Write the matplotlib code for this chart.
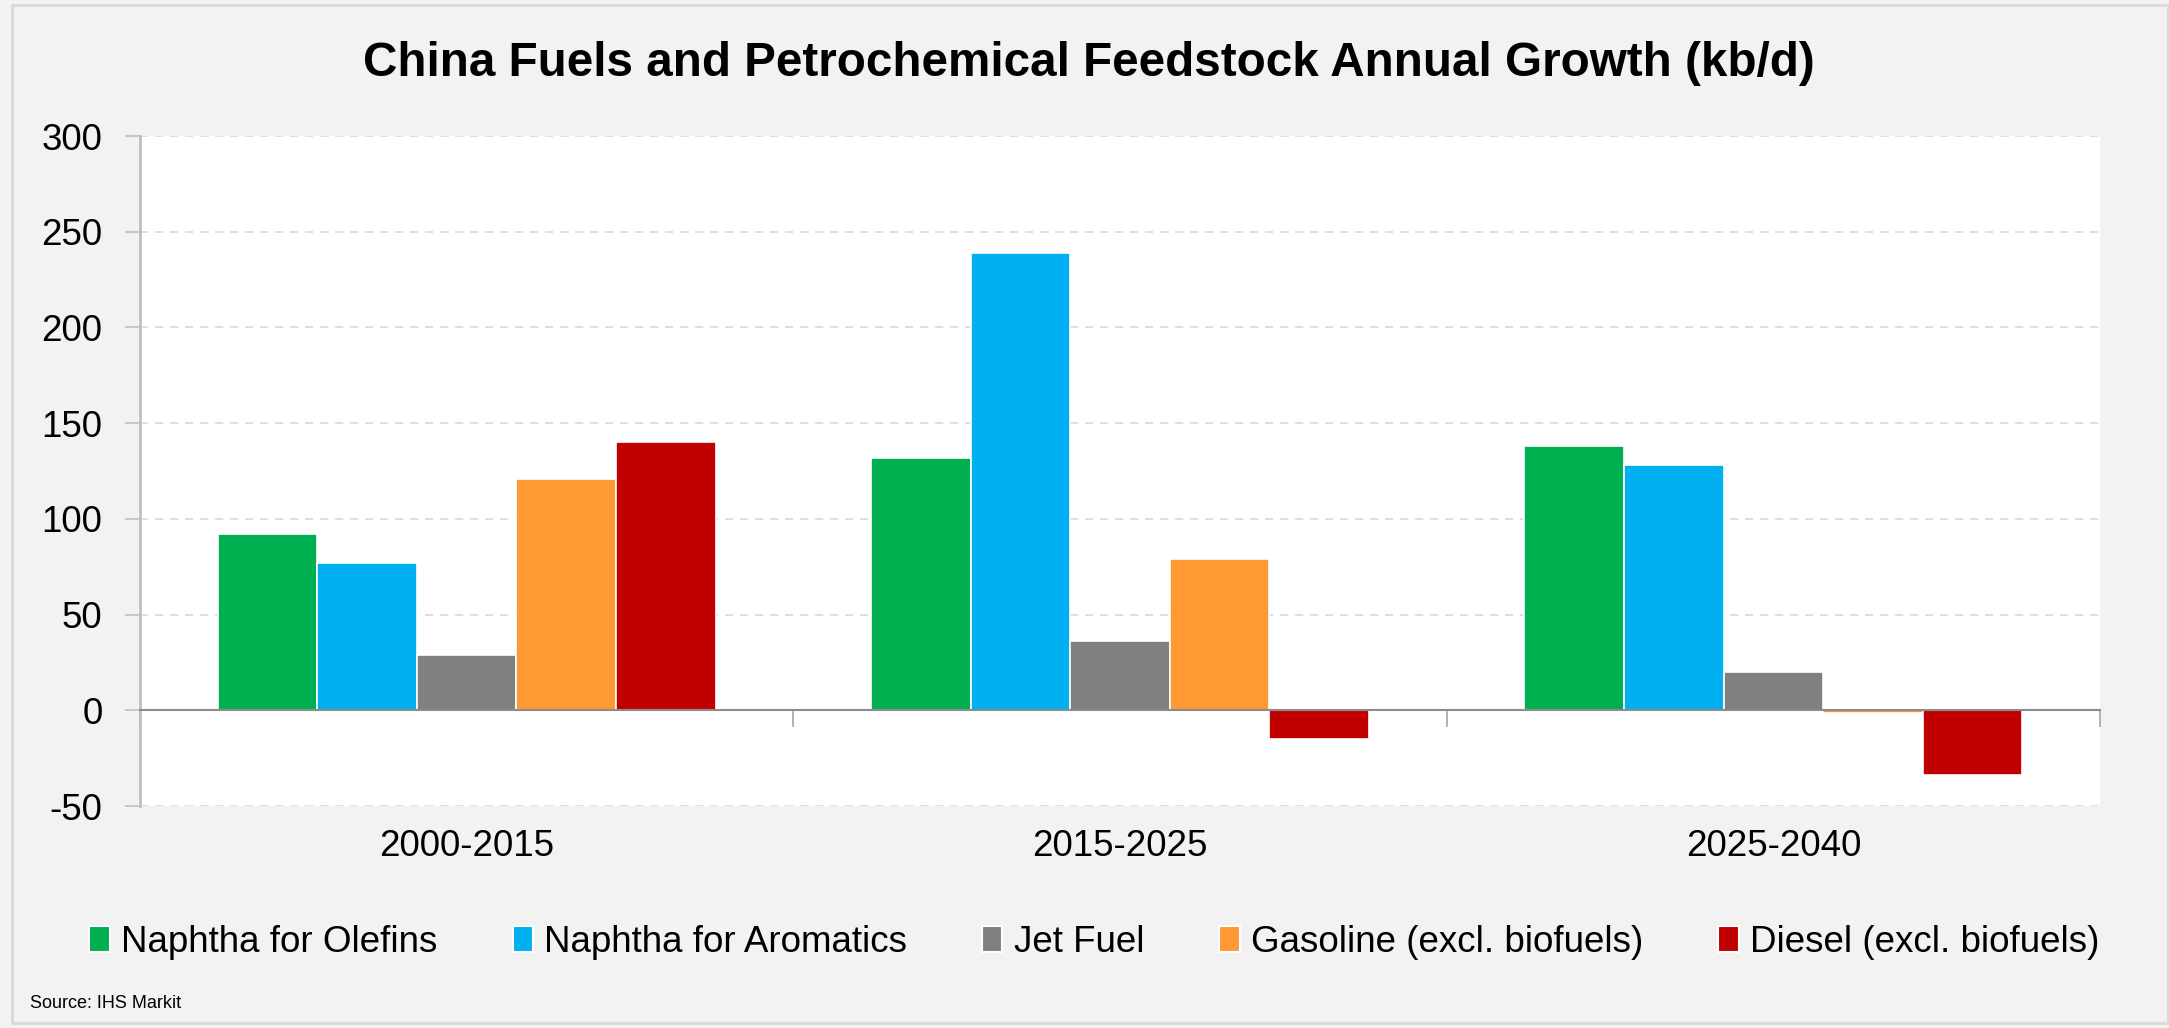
import numpy as np
import matplotlib
matplotlib.use('Agg')
import matplotlib.pyplot as plt
from matplotlib.patches import Rectangle, Patch

plt.rcParams['font.family'] = ['Liberation Sans', 'DejaVu Sans']

# data
periods = ['2000-2015', '2015-2025', '2025-2040']
series = ['Naphtha for Olefins', 'Naphtha for Aromatics', 'Jet Fuel',
          'Gasoline (excl. biofuels)', 'Diesel (excl. biofuels)']
olefins = [92, 132, 138]
aromatics = [77, 239, 128]
jet_fuel = [29, 36, 20]
gasoline = [121, 79, -1.5]
diesel = [140, -15, -34]
colors = ['#00B050', '#00B0F0', '#808080', '#FF9933', '#C00000']
yticks = [-50, 0, 50, 100, 150, 200, 250, 300]

values = [olefins, aromatics, jet_fuel, gasoline, diesel]

fig = plt.figure(figsize=(21.69, 10.28), dpi=100, facecolor='#f2f2f2')
# outer frame
fig.patches.append(Rectangle((12/2169, 5/1028), (2168-12)/2169, (1023-5)/1028,
                             transform=fig.transFigure, facecolor='none',
                             edgecolor='#d9d9d9', linewidth=2, zorder=0))

ax = fig.add_axes([140/2169, 1-806/1028, (2100-140)/2169, (806-136)/1028])
ax.set_facecolor('white')

x = np.arange(len(periods))
step = 0.1525
for i, (name, vals, c) in enumerate(zip(series, values, colors)):
    ax.bar(x + (i-2)*step, vals, width=step, color=c, edgecolor='white',
           linewidth=1.2, label=name, zorder=3)

ax.set_xlim(-0.5, 2.5)
ax.set_ylim(-50, 300)
ax.set_yticks(yticks)
ax.set_yticklabels([str(t) for t in yticks], fontsize=26.5)
ax.yaxis.grid(True, color='#d9d9d9', linestyle=(0, (5, 4)), linewidth=1.2, zorder=0)
ax.tick_params(axis='y', length=11, width=1.2, color='#bfbfbf', pad=16)

# category axis runs along zero
ax.spines['bottom'].set_position(('data', 0))
ax.spines['bottom'].set_color('#8c8c8c')
ax.spines['bottom'].set_linewidth(1.5)
ax.spines['bottom'].set_zorder(4)
ax.set_xticks([-0.5, 0.5, 1.5, 2.5])
ax.set_xticklabels([])
ax.tick_params(axis='x', length=12, width=1.2, color='#a6a6a6', direction='out')
for xi, p in zip(x, periods):
    ax.text(xi, -0.061, p, transform=ax.get_xaxis_transform(), ha='center',
            va='center', fontsize=26.5)

ax.spines['left'].set_color('#bfbfbf')
ax.spines['left'].set_linewidth(2)
ax.spines['top'].set_visible(False)
ax.spines['right'].set_visible(False)

fig.text(0.5018, 1-63/1028, 'China Fuels and Petrochemical Feedstock Annual Growth (kb/d)',
         ha='center', va='center', fontsize=34.3, fontweight='bold')

handles = [Patch(facecolor=c, edgecolor='white', linewidth=1.5) for c in colors]
fig.legend(handles, series, loc='center', bbox_to_anchor=(0.5045, 1-942/1028), ncol=5,
           frameon=False, fontsize=26.5, handlelength=0.55, handleheight=0.7,
           handletextpad=0.3, columnspacing=2.05)

fig.text(30/2169, 1-1003/1028, 'Source: IHS Markit', ha='left', va='center', fontsize=13)

fig.savefig('out.png', dpi=100, facecolor=fig.get_facecolor())
